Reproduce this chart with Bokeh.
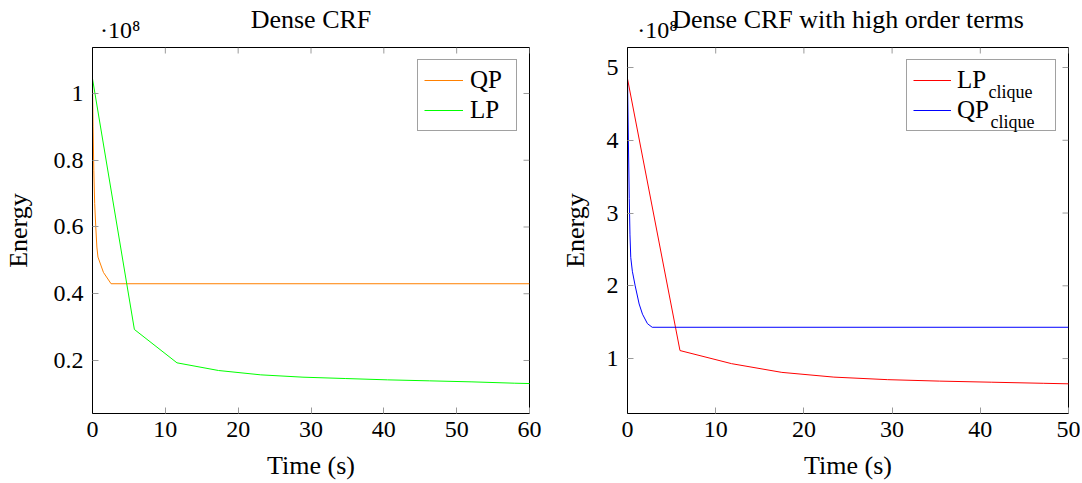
import math
from bokeh.plotting import figure
from bokeh.layouts import row
from bokeh.models import (Range1d, FixedTicker, LinearAxis, Legend, LegendItem,
                          Label, CustomJSTickFormatter)
from bokeh.embed import file_html
from bokeh.resources import INLINE

# ---------------- data (energies in units of 1e8) ----------------
qp_time = [0, 0.08, 0.18, 0.3, 0.45, 0.6, 0.75, 1.5, 2.55, 60]
qp_energy = [1.03, 0.9, 0.77, 0.67, 0.6, 0.54, 0.51, 0.464, 0.43, 0.43]

lp_time = [0, 5.75, 11.6, 17.3, 23.1, 28.9, 34.7, 40.5, 46.3, 52.1, 57.9, 63.7]
lp_energy = [1.044, 0.293, 0.193, 0.17, 0.157, 0.15, 0.146, 0.142, 0.139, 0.136, 0.132, 0.129]

lpc_time = [0, 5.95, 11.8, 17.5, 23.4, 29.5, 35.4, 41.3, 47.2, 53.1]
lpc_energy = [4.845, 1.11, 0.93, 0.81, 0.745, 0.71, 0.69, 0.675, 0.66, 0.645]

qpc_time = [0, 0.1, 0.2, 0.28, 0.37, 0.55, 0.87, 1.32, 1.7, 2.26, 2.8, 50]
qpc_energy = [4.85, 4.0, 3.2, 2.7, 2.39, 2.2, 2.0, 1.75, 1.61, 1.48, 1.43, 1.43]

left_xticks = [0, 10, 20, 30, 40, 50, 60]
left_yticks = [0.2, 0.4, 0.6, 0.8, 1.0]
right_xticks = [0, 10, 20, 30, 40, 50]
right_yticks = [1, 2, 3, 4, 5]

titles = ["Dense CRF", "Dense CRF with high order terms"]
multiplier = "·10⁸"

FONT = "Liberation Serif"
FS_NUM = "24px"
FS_TXT = "26px"
FS_LEG = "25px"
TICK_GRAY = "#9a9a9a"


def style(p, xticks, yticks, title, mult_pos, ylab_standoff):
    p.grid.visible = False
    p.outline_line_color = "black"
    p.outline_line_width = 1
    p.background_fill_color = "white"
    p.border_fill_color = "white"
    fmt = CustomJSTickFormatter(code="return String(Math.round(tick*10)/10);")
    xa = p.xaxis[0]
    ya = p.yaxis[0]
    xa.ticker = FixedTicker(ticks=xticks)
    ya.ticker = FixedTicker(ticks=yticks)
    ya.formatter = fmt
    xa.formatter = fmt
    for ax in (xa, ya):
        ax.major_tick_in = 6
        ax.major_tick_out = 0
        ax.minor_tick_line_color = None
        ax.major_tick_line_color = TICK_GRAY
        ax.axis_line_color = "black"
        ax.major_label_text_font = FONT
        ax.major_label_text_font_size = FS_NUM
        ax.major_label_text_color = "black"
        ax.axis_label_text_font = FONT
        ax.axis_label_text_font_size = FS_TXT
        ax.axis_label_text_font_style = "normal"
        ax.axis_label_text_color = "black"
    xa.axis_label = "Time (s)"
    ya.axis_label = "Energy"
    xa.major_label_standoff = 8
    xa.axis_label_standoff = 11
    ya.major_label_standoff = 9
    ya.axis_label_standoff = ylab_standoff

    # mirrored tick marks on the top and right edges (6 px, pointing inwards)
    x_end = p.x_range.end
    y_end = p.y_range.end
    p.ray(x=xticks, y=[y_end] * len(xticks), length=6, length_units="screen",
          angle=-math.pi / 2, line_color=TICK_GRAY, line_width=1)
    p.ray(x=[x_end] * len(yticks), y=yticks, length=6, length_units="screen",
          angle=math.pi, line_color=TICK_GRAY, line_width=1)

    # multiplier label and title above the frame
    lab = LinearAxis(ticker=FixedTicker(ticks=[mult_pos]),
                     formatter=CustomJSTickFormatter(args=dict(m=multiplier),
                                                     code="return m;"))
    lab.major_tick_line_color = None
    lab.minor_tick_line_color = None
    lab.axis_line_color = None
    lab.major_tick_in = 0
    lab.major_tick_out = 0
    lab.major_label_text_font = FONT
    lab.major_label_text_font_size = FS_NUM
    lab.major_label_text_color = "black"
    lab.major_label_standoff = 5
    lab.axis_label = title
    lab.axis_label_text_font = FONT
    lab.axis_label_text_font_size = FS_TXT
    lab.axis_label_text_font_style = "normal"
    lab.axis_label_text_color = "black"
    lab.axis_label_standoff = -20
    p.add_layout(lab, "above")


def make_legend(items, glyph_width, label_width, standoff):
    return Legend(items=items, location="top_right", margin=12, padding=6,
                  spacing=2, glyph_width=glyph_width, glyph_height=28,
                  label_height=28, label_width=label_width,
                  label_standoff=standoff, label_text_font=FONT,
                  label_text_font_size=FS_LEG, label_text_color="black",
                  border_line_color="#444444", border_line_width=1,
                  background_fill_alpha=0)


FH = 366

# ---------------- left figure ----------------
p1 = figure(width=548, height=482, output_backend="svg", toolbar_location=None,
            x_range=Range1d(0, 60), y_range=Range1d(0.0412, 1.1378),
            min_border_left=89, min_border_right=19, min_border_top=47,
            min_border_bottom=69)
style(p1, left_xticks, left_yticks, titles[0], 3.8, 18)
r_qp = p1.line(qp_time, qp_energy, line_color="#ff8000", line_width=1)
r_lp = p1.line(lp_time, lp_energy, line_color="#00ff00", line_width=1)
p1.add_layout(make_legend([LegendItem(label="QP", renderers=[r_qp]),
                           LegendItem(label="LP", renderers=[r_lp])],
                          39, 40, 7), "center")

# ---------------- right figure ----------------
FW2 = 441
p2 = figure(width=532, height=482, output_backend="svg", toolbar_location=None,
            x_range=Range1d(0, 50), y_range=Range1d(0.245, 5.275),
            min_border_left=79, min_border_right=12, min_border_top=47,
            min_border_bottom=69)
style(p2, right_xticks, right_yticks, titles[1], 3.4, 14)
r_lpc = p2.line(lpc_time, lpc_energy, line_color="#ff0000", line_width=1)
r_qpc = p2.line(qpc_time, qpc_energy, line_color="#0000ff", line_width=1)
p2.add_layout(make_legend([LegendItem(label="LP", renderers=[r_lpc]),
                           LegendItem(label="QP", renderers=[r_qpc])],
                          38, 92, 6), "center")
text_start = FW2 - 12 - 6 - 92
for dx, yy in ((30, FH - 44), (32, FH - 74)):
    p2.add_layout(Label(x=text_start + dx, y=yy, x_units="screen", y_units="screen",
                        text="clique", text_font=FONT, text_font_size="18px",
                        text_align="left", text_baseline="alphabetic",
                        text_color="black"))

layout = row(p1, p2)
with open("out.html", "w", encoding="utf-8") as f:
    f.write(file_html(layout, INLINE))
